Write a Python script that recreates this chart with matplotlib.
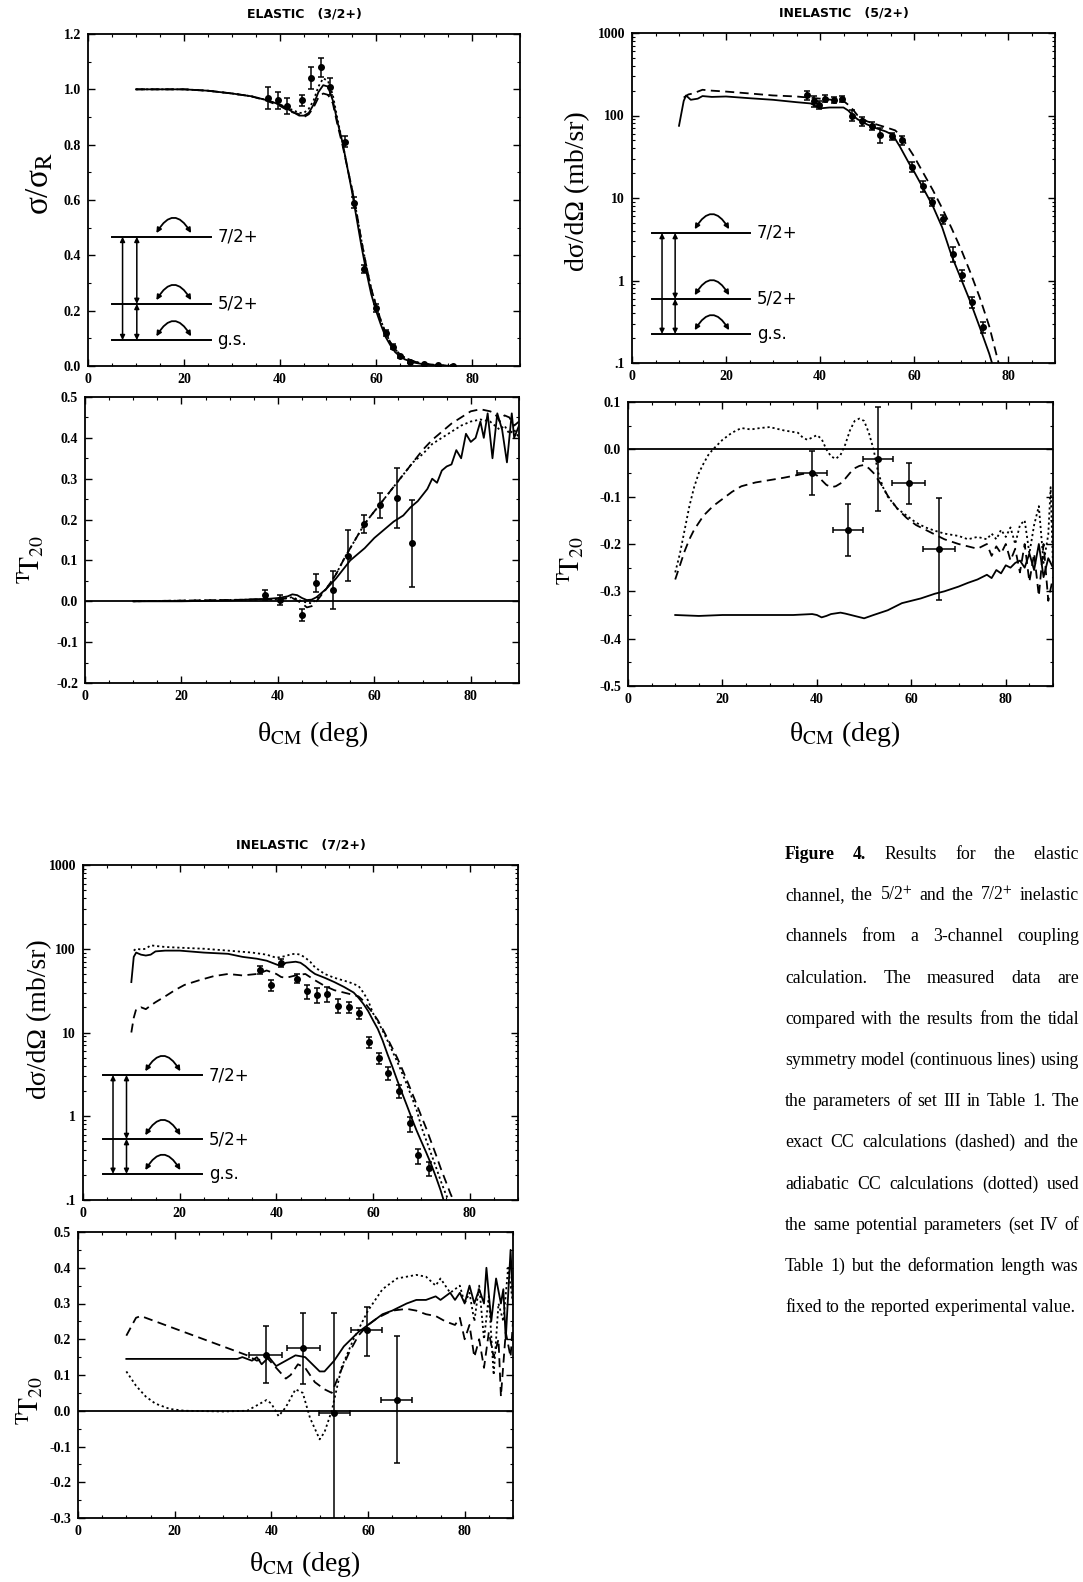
import matplotlib
matplotlib.use("Agg")
import matplotlib.pyplot as plt
from matplotlib.patches import FancyArrowPatch
from matplotlib.ticker import MultipleLocator, FixedLocator, FixedFormatter, LogLocator, NullFormatter

plt.rcParams['mathtext.fontset'] = 'stix'
plt.rcParams['axes.unicode_minus'] = False
plt.rcParams['font.family'] = ['Liberation Serif', 'DejaVu Serif']

W, H = 1083, 1582

# ---------------- elastic (3/2+) cross section ----------------
el_x = [10, 15, 20, 25, 30, 34, 37, 40, 42, 44, 45, 46, 47, 48, 49, 50, 51, 52, 53, 54, 55, 56, 57,
        58, 59, 60, 61, 62, 63, 64, 65, 66, 68, 70, 73, 76]
el_solid = [1.0, 1.0, 1.0, 0.995, 0.985, 0.975, 0.962, 0.945, 0.925, 0.905, 0.905, 0.915, 0.945, 0.99,
            1.015, 1.01, 0.96, 0.88, 0.81, 0.72, 0.63, 0.53, 0.43, 0.34, 0.26, 0.2, 0.15, 0.105, 0.075,
            0.05, 0.035, 0.024, 0.012, 0.006, 0.002, 0.0]
el_dash = [1.0, 1.0, 1.0, 0.995, 0.985, 0.975, 0.96, 0.94, 0.92, 0.91, 0.9, 0.91, 0.935, 0.97, 0.985,
           0.98, 0.95, 0.87, 0.8, 0.72, 0.64, 0.55, 0.45, 0.36, 0.28, 0.22, 0.165, 0.12, 0.085, 0.06,
           0.042, 0.03, 0.016, 0.008, 0.003, 0.0]
el_dot = [1.0, 1.0, 1.0, 0.995, 0.985, 0.975, 0.962, 0.945, 0.93, 0.915, 0.915, 0.93, 0.96, 1.01, 1.04,
          1.03, 0.98, 0.89, 0.81, 0.72, 0.64, 0.55, 0.45, 0.36, 0.28, 0.22, 0.165, 0.12, 0.085, 0.06,
          0.042, 0.03, 0.016, 0.008, 0.003, 0.0]
el_data_x = [37.5, 39.5, 41.5, 44.5, 46.5, 48.5, 50.5, 53.5, 55.5, 57.5, 60, 62, 63.5, 65, 67, 70, 73, 76]
el_data_y = [0.97, 0.96, 0.94, 0.96, 1.04, 1.08, 1.01, 0.81, 0.59, 0.35, 0.21, 0.12, 0.07, 0.035, 0.015,
             0.006, 0.003, 0.001]
el_data_err = [0.04, 0.03, 0.03, 0.02, 0.04, 0.035, 0.03, 0.02, 0.02, 0.015, 0.015, 0.01, 0.01, 0.006,
               0.004, 0.002, 0.001, 0.001]

# ---------------- elastic T20 ----------------
t1_sx = [10, 20, 30, 35, 38, 40, 42, 43, 44, 45, 46, 47, 48, 50, 52, 54, 55, 58, 60, 62, 64, 66, 67.5,
         69, 70, 71, 72, 73, 74, 75, 76, 77, 78, 79, 80, 81, 82, 82.7, 83.5, 84.5, 85.5, 86.5, 87.5,
         88.5, 89, 90]
t1_sy = [0, 0, 0.002, 0.005, 0.006, 0.008, 0.012, 0.017, 0.015, 0.008, 0.003, 0.004, 0.01, 0.03, 0.055,
         0.085, 0.1, 0.13, 0.155, 0.175, 0.195, 0.21, 0.23, 0.245, 0.26, 0.275, 0.3, 0.29, 0.32, 0.33,
         0.335, 0.37, 0.35, 0.41, 0.39, 0.4, 0.44, 0.40, 0.46, 0.35, 0.46, 0.42, 0.34, 0.46, 0.40, 0.43]
t1_cx = [10, 40, 43, 45, 46, 47, 48, 50, 52, 54, 56, 58, 60, 62, 64, 66, 68, 70, 72, 74, 76, 78, 80,
         82, 84, 85, 86, 87, 88, 89, 90]
t1_dash = [0, 0.005, 0.008, -0.005, -0.015, -0.012, 0.0, 0.03, 0.065, 0.11, 0.15, 0.19, 0.22, 0.25,
           0.28, 0.31, 0.34, 0.37, 0.395, 0.415, 0.435, 0.45, 0.465, 0.47, 0.465, 0.46, 0.44, 0.455,
           0.45, 0.43, 0.44]
t1_dot = [0, 0.005, 0.01, 0.0, -0.003, -0.005, 0.005, 0.03, 0.065, 0.11, 0.15, 0.19, 0.22, 0.25, 0.28,
          0.31, 0.34, 0.36, 0.385, 0.40, 0.415, 0.43, 0.44, 0.445, 0.44, 0.43, 0.42, 0.43, 0.41, 0.42,
          0.40]
t1_data_x = [37.3, 40.4, 44.9, 48.0, 51.5, 54.6, 57.9, 61.2, 64.6, 67.9]
t1_data_y = [0.015, 0.004, -0.033, 0.045, 0.027, 0.112, 0.19, 0.235, 0.252, 0.142]
t1_data_err = [0.012, 0.012, 0.015, 0.022, 0.047, 0.063, 0.022, 0.03, 0.073, 0.107]

# ---------------- inelastic (5/2+) cross section ----------------
i5_sx = [10, 11, 11.5, 12.5, 14, 15, 17, 20, 25, 30, 35, 38, 40, 42, 45, 46, 47, 48, 50, 52, 54, 55,
         56, 57, 58, 59, 60, 62, 64, 66, 68, 70, 72, 74, 76, 76.6]
i5_sy = [75, 150, 175, 155, 160, 172, 168, 170, 162, 155, 145, 140, 122, 125, 125, 115, 100, 90, 78, 70,
         64, 60, 52, 42, 33, 26, 21, 13, 8, 4.4, 2.0, 1.05, 0.55, 0.27, 0.13, 0.1]
i5_dx = [11, 12, 13, 14, 15, 17, 20, 25, 30, 35, 40, 45, 46, 47, 48, 50, 52, 54, 56, 57, 58, 60, 62,
         64, 66, 68, 70, 72, 74, 76, 78]
i5_dy = [165, 180, 185, 195, 205, 200, 195, 185, 175, 170, 160, 150, 135, 118, 100, 85, 78, 72, 66, 58,
         48, 32, 20, 12.5, 7.5, 4.3, 2.4, 1.25, 0.62, 0.28, 0.1]
i5_data_x = [37.2, 38.8, 39.7, 41.1, 42.9, 44.6, 46.8, 48.9, 51.0, 52.8, 55.3, 57.4, 59.5, 61.9, 63.8,
             66.1, 68.2, 70.2, 72.4, 74.6]
i5_data_y = [175, 150, 135, 160, 155, 160, 100, 85, 75, 58, 56, 50, 24, 14, 9, 5.5, 2.1, 1.15, 0.55,
             0.27]
i5_rel_err = [0.12, 0.15, 0.12, 0.1, 0.08, 0.08, 0.15, 0.12, 0.12, 0.2, 0.1, 0.12, 0.15, 0.15, 0.12,
              0.12, 0.2, 0.15, 0.15, 0.15]

# ---------------- inelastic (5/2+) T20 ----------------
t5_sx = [10, 15, 20, 25, 30, 35, 39, 40, 41, 42, 43, 45, 46, 48, 50, 52, 55, 58, 62, 65, 67, 70, 72,
         74, 75, 76, 77, 78, 79, 80, 81, 82, 83, 84, 85, 86, 87, 88, 89, 90]
t5_sy = [-0.35, -0.352, -0.35, -0.35, -0.35, -0.35, -0.348, -0.35, -0.355, -0.352, -0.348, -0.345,
         -0.347, -0.352, -0.357, -0.35, -0.34, -0.325, -0.315, -0.305, -0.3, -0.29, -0.282, -0.275,
         -0.27, -0.265, -0.272, -0.255, -0.262, -0.245, -0.25, -0.24, -0.235, -0.25, -0.22, -0.255,
         -0.2, -0.27, -0.23, -0.25]
t5_ox = [10, 11, 12, 13, 14, 15, 16, 17, 18, 19, 20, 22, 24, 26, 28, 30, 33, 36, 37, 38, 39, 40, 41,
         42, 43, 44, 45, 46, 47, 48, 49, 50, 51, 52, 53, 54, 55, 57, 59, 61, 63, 65, 67, 70, 72, 74,
         76, 77, 78, 79, 80, 81, 82, 83, 84, 85, 86, 87, 88, 89, 89.5, 90]
t5_oy = [-0.26, -0.22, -0.17, -0.12, -0.08, -0.05, -0.03, -0.012, 0.0, 0.01, 0.02, 0.035, 0.045,
         0.042, 0.045, 0.047, 0.04, 0.035, 0.025, 0.02, 0.025, 0.03, 0.022, 0.0, -0.015, -0.02,
         -0.012, 0.01, 0.04, 0.06, 0.065, 0.06, 0.035, 0.0, -0.05, -0.08, -0.1, -0.125, -0.14,
         -0.155, -0.165, -0.172, -0.178, -0.183, -0.19, -0.185, -0.19, -0.178, -0.19, -0.17, -0.185,
         -0.165, -0.2, -0.16, -0.15, -0.22, -0.16, -0.12, -0.24, -0.18, -0.08, -0.25]
t5_dx = [10, 11, 12, 13, 14, 16, 18, 20, 22, 24, 27, 30, 33, 35, 37, 39, 40, 41, 42, 43, 44, 45, 46,
         47, 48, 49, 50, 51, 52, 53, 54, 55, 57, 59, 61, 63, 65, 67, 70, 72, 74, 76, 77, 78, 79, 80,
         81, 82, 83, 84, 85, 86, 87, 88, 89, 90]
t5_dy = [-0.275, -0.245, -0.215, -0.19, -0.17, -0.14, -0.12, -0.105, -0.09, -0.078, -0.07, -0.065,
         -0.06, -0.056, -0.052, -0.05, -0.055, -0.065, -0.075, -0.08, -0.078, -0.072, -0.062, -0.05,
         -0.04, -0.035, -0.033, -0.04, -0.05, -0.065, -0.08, -0.098, -0.125, -0.145, -0.16, -0.17,
         -0.18, -0.19, -0.2, -0.205, -0.21, -0.2, -0.225, -0.205, -0.22, -0.2, -0.235, -0.21, -0.26,
         -0.2, -0.28, -0.22, -0.31, -0.2, -0.32, -0.27]
t5_data_x = [39.0, 46.6, 52.9, 59.4, 65.8]
t5_data_y = [-0.05, -0.171, -0.02, -0.072, -0.21]
t5_data_yerr = [0.047, 0.055, 0.11, 0.043, 0.108]
t5_data_xerr = [3.2, 3.2, 3.2, 3.5, 3.4]

# ---------------- inelastic (7/2+) cross section ----------------
i7_sx = [10, 10.5, 11, 12, 13, 14, 15, 17, 20, 25, 30, 33, 36, 38, 40, 41, 42, 44, 45, 46, 47, 48, 50,
         52, 54, 56, 57, 58, 59, 60, 61, 62, 63, 64, 65, 66, 67, 68, 69, 70, 71, 72, 73, 74, 74.6]
i7_sy = [40, 80, 90, 85, 83, 85, 93, 95, 95, 90, 87, 80, 76, 72, 65, 62, 68, 70, 68, 62, 55, 50, 45, 40,
         35, 30, 26, 22, 18, 14, 11, 8, 5.5, 3.9, 2.7, 1.9, 1.35, 0.95, 0.68, 0.5, 0.37, 0.27, 0.19,
         0.13, 0.1]
i7_ox = [10.5, 11, 12, 13, 14, 15, 17, 20, 25, 30, 35, 38, 40, 42, 43, 44, 45, 46, 47, 48, 50, 52, 55,
         57, 58, 59, 60, 61, 62, 63, 64, 65, 66, 67, 68, 69, 70, 71, 72, 73, 74, 75, 75.6]
i7_oy = [95, 100, 98, 100, 110, 108, 105, 103, 100, 95, 90, 85, 78, 82, 86, 87, 85, 78, 70, 60, 50, 45,
         40, 36, 30, 24, 17, 13.5, 10.5, 8, 6, 4.5, 3.3, 2.4, 1.7, 1.2, 0.75, 0.52, 0.36, 0.25, 0.17,
         0.12, 0.1]
i7_dx = [10, 10.5, 11, 12, 13, 14, 15, 17, 19, 21, 24, 27, 30, 33, 36, 38, 40, 41, 42, 44, 46, 48, 50,
         52, 55, 57, 58, 59, 60, 61, 62, 63, 64, 65, 66, 67, 68, 69, 70, 71, 72, 73, 74, 75, 76, 76.6]
i7_dy = [10, 15, 19, 20, 19, 21, 23, 27, 32, 37, 42, 47, 50, 48, 50, 55, 50, 46, 45, 48, 50, 42, 36, 32,
         29, 27, 24, 20, 17, 14, 11, 8.5, 6.5, 5, 3.7, 2.7, 1.95, 1.4, 1.0, 0.72, 0.5, 0.35, 0.24,
         0.17, 0.12, 0.1]
i7_data_x = [36.6, 38.8, 41.0, 44.3, 46.4, 48.4, 50.5, 52.8, 55.0, 57.1, 59.1, 61.2, 63.2, 65.3, 67.6,
             69.4, 71.5]
i7_data_y = [56, 37, 68, 44, 31, 28, 29, 21, 20, 17, 7.6, 4.9, 3.3, 2.0, 0.82, 0.34, 0.24]
i7_rel_err = [0.1, 0.15, 0.12, 0.12, 0.18, 0.2, 0.2, 0.18, 0.15, 0.15, 0.15, 0.15, 0.18, 0.18, 0.2,
              0.2, 0.2]

# ---------------- inelastic (7/2+) T20 ----------------
t7_sx = [10, 20, 30, 33, 34, 36, 37, 38, 39.5, 41, 43, 45, 47, 48.5, 50, 51, 53, 55, 58, 61, 63, 65,
         68, 70, 72, 74, 75, 77, 78, 79, 80, 81, 82, 83, 84, 84.5, 85.5, 86.5, 87.5, 88, 88.5, 89.5, 90]
t7_sy = [0.145, 0.145, 0.145, 0.145, 0.15, 0.14, 0.15, 0.13, 0.15, 0.125, 0.14, 0.155, 0.15, 0.13,
         0.11, 0.11, 0.14, 0.18, 0.22, 0.25, 0.27, 0.28, 0.3, 0.31, 0.31, 0.32, 0.31, 0.33, 0.31, 0.33,
         0.3, 0.35, 0.3, 0.34, 0.3, 0.4, 0.25, 0.37, 0.3, 0.34, 0.2, 0.45, 0.3]
t7_dx = [10, 12, 13, 16, 20, 24, 28, 32, 35, 37, 39, 41, 43, 44, 45.5, 47, 49, 51, 52.5, 54, 56, 58,
         60, 62, 65, 68, 70, 72, 74, 76, 78, 79, 80, 81, 82, 83, 84, 85, 86, 87, 87.5, 88.5, 89.5, 90]
t7_dy = [0.21, 0.26, 0.265, 0.25, 0.23, 0.21, 0.19, 0.17, 0.155, 0.14, 0.15, 0.12, 0.09, 0.1, 0.13,
         0.12, 0.08, 0.06, 0.05, 0.1, 0.16, 0.21, 0.24, 0.26, 0.28, 0.285, 0.28, 0.27, 0.265, 0.25,
         0.24, 0.26, 0.2, 0.24, 0.15, 0.2, 0.12, 0.22, 0.15, 0.2, 0.04, 0.22, 0.15, 0.25]
t7_ox = [10, 12, 14, 16, 19, 22, 30, 35, 39, 40, 41.5, 43, 45, 46.5, 48, 50, 51, 52.5, 54.5, 57, 60,
         63, 66, 70, 72, 74, 75, 77, 79, 80, 81, 82, 83, 84, 85, 86, 87, 88, 89, 90]
t7_oy = [0.11, 0.07, 0.04, 0.02, 0.005, 0.0, -0.002, 0.0, 0.03, 0.02, -0.015, 0.01, 0.06, 0.05, -0.02,
         -0.08, -0.06, 0.0, 0.12, 0.2, 0.28, 0.34, 0.37, 0.38, 0.375, 0.35, 0.37, 0.33, 0.35, 0.3,
         0.33, 0.25, 0.35, 0.2, 0.32, 0.1, 0.3, 0.25, 0.4, 0.3]
t7_data_x = [38.8, 46.6, 53.0, 59.7, 65.9]
t7_data_y = [0.157, 0.175, -0.007, 0.227, 0.031]
t7_data_ylo = [0.078, 0.1, 0.3, 0.075, 0.177]
t7_data_yhi = [0.079, 0.098, 0.28, 0.063, 0.177]
t7_data_xerr = [3.4, 3.4, 3.2, 3.2, 3.2]

caption_lines = [
    "Figure 4. Results for the elastic",
    "channel, the 5/2$^{+}$ and the 7/2$^{+}$ inelastic",
    "channels from a 3-channel coupling",
    "calculation. The measured data are",
    "compared with the results from the tidal",
    "symmetry model (continuous lines) using",
    "the parameters of set III in Table 1. The",
    "exact CC calculations (dashed) and the",
    "adiabatic CC calculations (dotted) used",
    "the same potential parameters (set IV of",
    "Table 1) but the deformation length was",
    "fixed to the reported experimental value.",
]

DASH = (0, (5, 3))
DOT = (0, (1.2, 1.6))


def box(l, t, r, b):
    return [l / W, 1 - b / H, (r - l) / W, (b - t) / H]


def style(ax, ylim, major=None, minor=None, log=False):
    ax.set_xlim(0, 90)
    ax.set_ylim(*ylim)
    ax.xaxis.set_major_locator(MultipleLocator(20))
    ax.xaxis.set_minor_locator(MultipleLocator(5))
    if log:
        ax.set_yscale('log')
        ax.yaxis.set_major_locator(FixedLocator([0.1, 1, 10, 100, 1000]))
        ax.yaxis.set_major_formatter(FixedFormatter(['.1', '1', '10', '100', '1000']))
        ax.yaxis.set_minor_locator(LogLocator(base=10, subs=range(2, 10)))
        ax.yaxis.set_minor_formatter(NullFormatter())
    else:
        ax.yaxis.set_major_locator(MultipleLocator(major))
        ax.yaxis.set_minor_locator(MultipleLocator(minor))
    ax.tick_params(which='both', direction='in', top=True, right=True, labelsize=10, pad=5)
    ax.tick_params(which='major', length=5, width=1)
    ax.tick_params(which='minor', length=2.5, width=0.8)
    for sp in ax.spines.values():
        sp.set_linewidth(1.3)
    plt.setp(ax.get_xticklabels(), fontweight='bold')
    plt.setp(ax.get_yticklabels(), fontweight='bold')


def levels(ax, ys, x0=0.055, x1=0.285, xa=0.08, xb=0.113, arc=(0.155, 0.242)):
    y72, y52, ygs = ys
    for y, lab in zip(ys, ['7/2+', '5/2+', 'g.s.']):
        ax.plot([x0, x1], [y, y], transform=ax.transAxes, color='k', lw=1.4, clip_on=False)
        ax.text(x1 + 0.015, y, lab, transform=ax.transAxes, va='center', ha='left',
                fontsize=12, family='DejaVu Sans')
        ax.add_patch(FancyArrowPatch((arc[0], y + 0.004), (arc[1], y + 0.004), transform=ax.transAxes,
                                     connectionstyle='arc3,rad=-0.9', arrowstyle='<|-|>',
                                     mutation_scale=7, lw=1.3, color='k'))
    ax.add_patch(FancyArrowPatch((xa, ygs), (xa, y72), transform=ax.transAxes, arrowstyle='<|-|>',
                                 mutation_scale=7, lw=1.1, color='k', shrinkA=0, shrinkB=0))
    for lo, hi in [(ygs, y52), (y52, y72)]:
        ax.add_patch(FancyArrowPatch((xb, lo), (xb, hi), transform=ax.transAxes, arrowstyle='<|-|>',
                                     mutation_scale=7, lw=1.1, color='k', shrinkA=0, shrinkB=0))


def curves(ax, solid, dash=None, dot=None):
    ax.plot(*solid, color='k', lw=1.3)
    if dash is not None:
        ax.plot(*dash, color='k', lw=1.3, linestyle=DASH)
    if dot is not None:
        ax.plot(*dot, color='k', lw=1.3, linestyle=DOT)


def points(ax, x, y, yerr, xerr=None):
    ax.errorbar(x, y, yerr=yerr, xerr=xerr, fmt='o', color='k', ms=4, elinewidth=1.1, capsize=2.5,
                capthick=1.1)


fig = plt.figure(figsize=(W / 100, H / 100), dpi=100)

TITLE = dict(fontsize=9, fontweight='bold', family='DejaVu Sans', pad=12)
YLAB = dict(fontsize=20)
T20 = r'$^{\rm T}\!{\rm T}_{20}$'
XLAB = r'θ$_{\rm CM}$ (deg)'
DSIG = 'dσ/dΩ (mb/sr)'

# elastic
ax = fig.add_axes(box(88, 34, 520, 366))
curves(ax, (el_x, el_solid), (el_x, el_dash), (el_x, el_dot))
points(ax, el_data_x, el_data_y, el_data_err)
style(ax, (0, 1.2), 0.2, 0.1)
ax.set_title('ELASTIC   (3/2+)', **TITLE)
ax.set_ylabel(r'σ/σ$_{\rm R}$', fontsize=24)
ax.yaxis.set_label_coords(-0.075, 0.55)
levels(ax, (0.389, 0.187, 0.078))

ax = fig.add_axes(box(85, 397, 519, 683))
ax.axhline(0, color='k', lw=1.3)
curves(ax, (t1_sx, t1_sy), (t1_cx, t1_dash), (t1_cx, t1_dot))
points(ax, t1_data_x, t1_data_y, t1_data_err)
style(ax, (-0.2, 0.5), 0.1, 0.05)
ax.set_ylabel(T20, **YLAB)
ax.yaxis.set_label_coords(-0.088, 0.43)
ax.set_xlabel(XLAB, **YLAB)
ax.xaxis.set_label_coords(0.525, -0.125)

# inelastic 5/2+
ax = fig.add_axes(box(632, 33, 1055, 363))
curves(ax, (i5_sx, i5_sy), (i5_dx, i5_dy))
points(ax, i5_data_x, i5_data_y, [v * e for v, e in zip(i5_data_y, i5_rel_err)])
style(ax, (0.1, 1000), log=True)
ax.set_title('INELASTIC   (5/2+)', **TITLE)
ax.set_ylabel(DSIG, **YLAB)
ax.yaxis.set_label_coords(-0.1, 0.52)
levels(ax, (0.394, 0.194, 0.088), x0=0.047, x1=0.28, xa=0.071, xb=0.102, arc=(0.145, 0.233))

ax = fig.add_axes(box(628, 402, 1053, 686))
ax.axhline(0, color='k', lw=1.3)
curves(ax, (t5_sx, t5_sy), (t5_dx, t5_dy), (t5_ox, t5_oy))
points(ax, t5_data_x, t5_data_y, t5_data_yerr, t5_data_xerr)
style(ax, (-0.5, 0.1), 0.1, 0.05)
ax.set_ylabel(T20, **YLAB)
ax.yaxis.set_label_coords(-0.099, 0.44)
ax.set_xlabel(XLAB, **YLAB)
ax.xaxis.set_label_coords(0.51, -0.115)

# inelastic 7/2+
ax = fig.add_axes(box(83, 865, 518, 1200))
curves(ax, (i7_sx, i7_sy), (i7_dx, i7_dy), (i7_ox, i7_oy))
points(ax, i7_data_x, i7_data_y, [v * e for v, e in zip(i7_data_y, i7_rel_err)])
style(ax, (0.1, 1000), log=True)
ax.set_title('INELASTIC   (7/2+)', **TITLE)
ax.set_ylabel(DSIG, **YLAB)
ax.yaxis.set_label_coords(-0.071, 0.54)
levels(ax, (0.373, 0.182, 0.078), x0=0.046, x1=0.274, xa=0.069, xb=0.1, arc=(0.14, 0.227))

ax = fig.add_axes(box(78, 1232, 513, 1518))
ax.axhline(0, color='k', lw=1.3)
curves(ax, (t7_sx, t7_sy), (t7_dx, t7_dy), (t7_ox, t7_oy))
points(ax, t7_data_x, t7_data_y, [t7_data_ylo, t7_data_yhi], t7_data_xerr)
style(ax, (-0.3, 0.5), 0.1, 0.05)
ax.set_ylabel(T20, **YLAB)
ax.yaxis.set_label_coords(-0.074, 0.41)
ax.set_xlabel(XLAB, **YLAB)
ax.xaxis.set_label_coords(0.52, -0.11)

# caption, justified word by word
renderer = fig.canvas.get_renderer()
cx0, cx1, cy0, cdy, csize = 785, 1079, 859, 41.2, 12.8
space = 0.25 * csize * 100 / 72
for i, line in enumerate(caption_lines):
    words = line.split()
    texts = []
    for j, w in enumerate(words):
        bold = i == 0 and j < 2
        texts.append(fig.text(0, 0, w, fontsize=csize, fontweight='bold' if bold else 'normal',
                              va='baseline', ha='left'))
    widths = [t.get_window_extent(renderer).width for t in texts]
    if i == len(caption_lines) - 1:
        gap = space
    else:
        gap = max((cx1 - cx0 - sum(widths)) / (len(words) - 1), space * 0.8)
    x = cx0
    for t, w in zip(texts, widths):
        t.set_position((x / W, 1 - (cy0 + i * cdy) / H))
        x += w + gap

fig.savefig('out.png', dpi=100)
